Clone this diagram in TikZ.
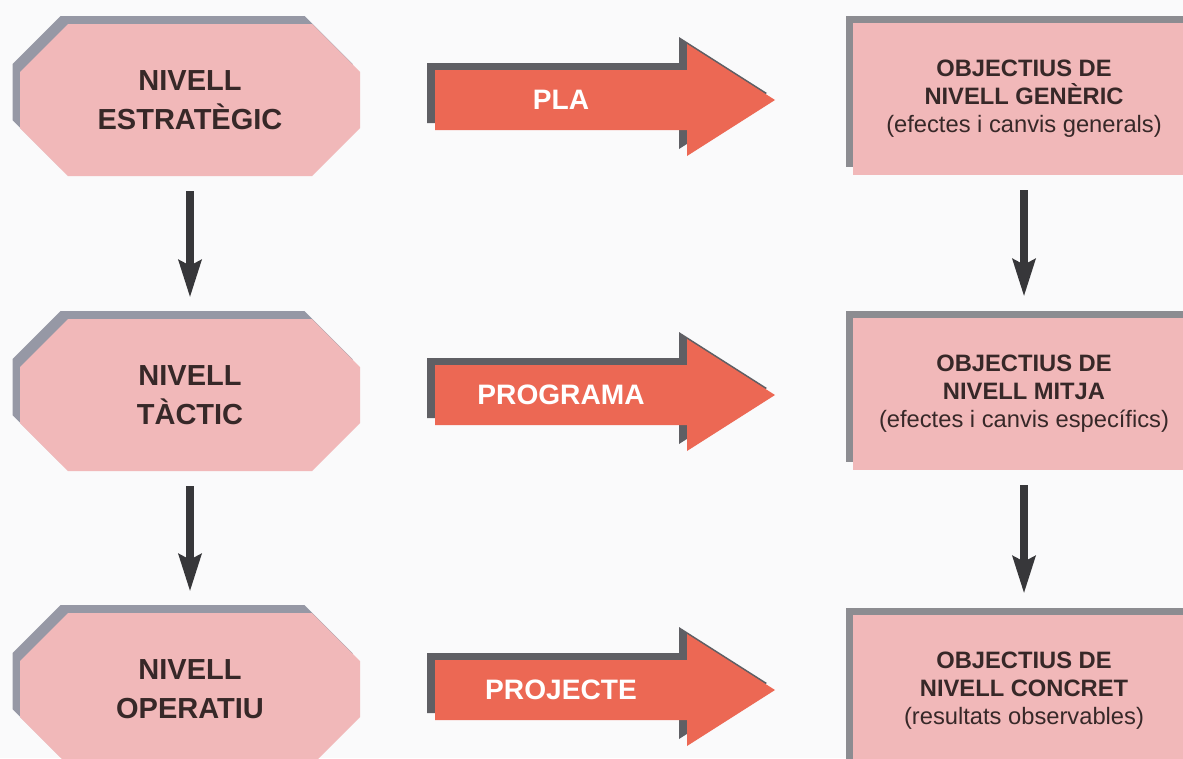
\documentclass[tikz,border=0pt]{standalone}
\usepackage{fontspec}
\setmainfont{Liberation Sans}
\usetikzlibrary{shadows,arrows.meta}

\definecolor{fonsgris}{RGB}{250,250,251}
\definecolor{rosa}{RGB}{241,184,185}
\definecolor{vermell}{RGB}{236,104,84}
\definecolor{ombraoct}{RGB}{150,152,165}
\definecolor{ombrafle}{RGB}{95,95,100}
\definecolor{ombracaixa}{RGB}{140,140,145}
\definecolor{fosc}{RGB}{55,55,58}
\definecolor{textfosc}{RGB}{55,40,40}

\tikzset{
  octagon/.style={fill=rosa,
    general shadow={fill=ombraoct, shadow xshift=-0.15cm, shadow yshift=0.16cm}},
  nivell/.style={rectangle, minimum width=6.8cm, minimum height=3.04cm, inner sep=0pt,
    align=center, text=textfosc, font=\bfseries\fontsize{16.5}{22}\selectfont},
  objectiu/.style={rectangle, fill=rosa, minimum width=6.84cm, minimum height=3.04cm,
    general shadow={fill=ombracaixa, shadow xshift=-0.15cm, shadow yshift=0.15cm},
    align=center, text=textfosc, font=\fontsize{13.5}{16}\selectfont},
  baixa/.style={draw=fosc, line width=4.5pt,
    -{Stealth[length=0.74cm,width=0.44cm,inset=0.1cm]},
    shorten <=0.3cm, shorten >=0.42cm},
  fletxa/.style={fill=vermell,
    general shadow={fill=ombrafle, shadow xshift=-0.16cm, shadow yshift=0.14cm}},
  etiqueta/.style={text=white, font=\bfseries\fontsize{16}{20}\selectfont}
}

\begin{document}
\begin{tikzpicture}
        [x=0.02cm,y=-0.02cm]
        \fill[fonsgris] (0,0) rectangle (1183,758);
        \useasboundingbox (0,0) rectangle (1183,758);

        % octagons
        \foreach \yc in {100,395,689}
          \fill[octagon] (68,\yc-76) -- (312,\yc-76) -- (360,\yc-28) -- (360,\yc+28)
            -- (312,\yc+76) -- (68,\yc+76) -- (20,\yc+28) -- (20,\yc-28) -- cycle;

        % nivells
        \node[nivell] (estrategic) at (190,100) {NIVELL\\ESTRATÈGIC};
        \node[nivell] (tactic) at (190,395) {NIVELL\\TÀCTIC};
        \node[nivell] (operatiu) at (190,689) {NIVELL\\OPERATIU};

        % objectius
        \node[objectiu] (generic) at (1024,99)
          {\textbf{OBJECTIUS DE}\\\textbf{NIVELL GENÈRIC}\\(efectes i canvis generals)};
        \node[objectiu] (mitja) at (1024,394)
          {\textbf{OBJECTIUS DE}\\\textbf{NIVELL MITJA}\\(efectes i canvis específics)};
        \node[objectiu] (concret) at (1024,691)
          {\textbf{OBJECTIUS DE}\\\textbf{NIVELL CONCRET}\\(resultats observables)};

        % fletxes grosses
        \foreach \yc/\lab/\nm in {100/PLA/pla, 395/PROGRAMA/programa, 690/PROJECTE/projecte}
        {
          \fill[fletxa] (435,\yc-30) -- (687,\yc-30) -- (687,\yc-56) -- (775,\yc)
            -- (687,\yc+56) -- (687,\yc+30) -- (435,\yc+30) -- cycle;
          \node[etiqueta] (\nm) at (561,\yc) {\lab};
        }

        \draw[baixa] (estrategic) -- (tactic);
        \draw[baixa] (tactic) -- (operatiu);
        \draw[baixa] (generic) -- (mitja);
        \draw[baixa] (mitja) -- (concret);
      \end{tikzpicture}
\end{document}
